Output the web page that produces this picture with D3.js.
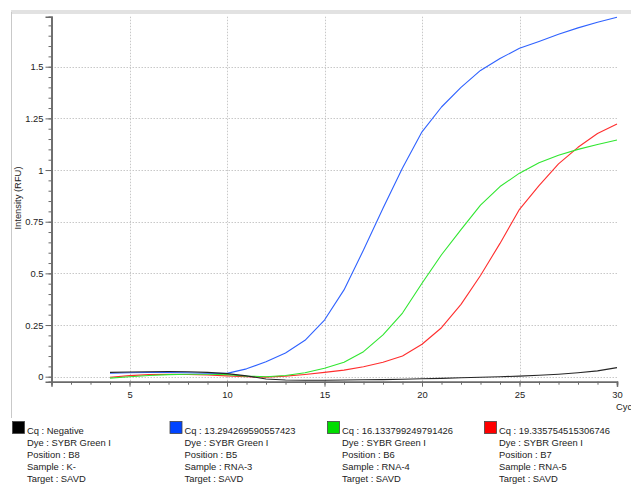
<!DOCTYPE html>
<html>
<head>
<meta charset="utf-8">
<script src="https://cdn.jsdelivr.net/npm/d3@7"></script>
<style>
  html, body { margin: 0; padding: 0; background: #fff; }
  svg { display: block; font-family: "Liberation Sans", Arial, sans-serif; }
</style>
</head>
<body>
<svg id="chart" width="631" height="485"></svg>
<script>
// Amplification curves (RFU per cycle), cycles 4..30
const cycles = [4,5,6,7,8,9,10,11,12,13,14,15,16,17,18,19,20,21,22,23,24,25,26,27,28,29,30];

const negativeB8 = [0.021,0.023,0.024,0.025,0.024,0.021,0.015,0.004,-0.011,-0.016,-0.017,-0.017,-0.016,-0.015,-0.014,-0.012,-0.010,-0.008,-0.005,-0.003,0.000,0.003,0.007,0.012,0.019,0.028,0.044];
const rna3B5 = [0.017,0.019,0.020,0.020,0.019,0.017,0.016,0.038,0.072,0.115,0.176,0.274,0.420,0.613,0.815,1.010,1.185,1.305,1.400,1.482,1.540,1.589,1.622,1.657,1.688,1.715,1.739];
const rna4B6 = [-0.007,0.000,0.006,0.010,0.012,0.012,0.010,0.003,0.000,0.006,0.019,0.041,0.070,0.121,0.202,0.308,0.452,0.590,0.712,0.830,0.920,0.985,1.035,1.072,1.100,1.124,1.145];
const rna5B7 = [-0.003,0.005,0.010,0.012,0.011,0.008,0.004,0.000,-0.002,0.003,0.011,0.021,0.032,0.048,0.070,0.100,0.157,0.237,0.350,0.490,0.645,0.810,0.925,1.030,1.110,1.177,1.223];

const seriesValues = [negativeB8, rna3B5, rna4B6, rna5B7];
const lineColors   = ["#262626", "#2f62ff", "#30e630", "#ff2e2e"];
const swatchColors = ["#000000", "#0044ff", "#00dd00", "#ff0000"];

const cqLabels     = ["Negative", "13.294269590557423", "16.133799249791426", "19.335754515306746"];
const dyeLabels    = ["SYBR Green I", "SYBR Green I", "SYBR Green I", "SYBR Green I"];
const positions    = ["B8", "B5", "B6", "B7"];
const samples      = ["K-", "RNA-3", "RNA-4", "RNA-5"];
const targets      = ["SAVD", "SAVD", "SAVD", "SAVD"];

const yMajorTicks = [0, 0.25, 0.5, 0.75, 1, 1.25, 1.5];
const xMajorTicks = [5, 10, 15, 20, 25, 30];

const svg = d3.select("#chart");

// panel frame: light band on top, thin rule on the left
svg.append("rect").attr("x", 11).attr("y", 10).attr("width", 620).attr("height", 4).attr("fill", "#e2e2e2");
svg.append("line").attr("x1", 11.5).attr("x2", 11.5).attr("y1", 12).attr("y2", 418)
  .attr("stroke", "#c9c9c9").attr("stroke-width", 1);

const x = d3.scaleLinear().domain([1, 30]).range([51.5, 617]);
const y = d3.scaleLinear().domain([-0.0242, 1.742]).range([381.7, 16.7]);

// grid
const grid = svg.append("g").attr("stroke", "#c8c8c8").attr("stroke-width", 1).attr("stroke-dasharray", "1.5,1.5");
grid.selectAll("line.h").data(yMajorTicks).join("line")
  .attr("x1", x(1)).attr("x2", x(30))
  .attr("y1", d => Math.round(y(d)) + 0.5).attr("y2", d => Math.round(y(d)) + 0.5);
grid.selectAll("line.v").data(xMajorTicks.filter(d => d < 30)).join("line")
  .attr("x1", d => Math.round(x(d)) + 0.5).attr("x2", d => Math.round(x(d)) + 0.5)
  .attr("y1", y(1.742)).attr("y2", y(-0.0242));

// axes
const axisColor = "#6a6a6a";
const yAxisMinor = d3.axisLeft(y).tickValues(d3.range(0, 1.7401, 0.05)).tickSize(3).tickFormat("");
const yAxisMajor = d3.axisLeft(y).tickValues(yMajorTicks).tickSize(6).tickPadding(2)
  .tickFormat(d => d3.format("")(d));
const xAxisMinor = d3.axisBottom(x).tickValues(d3.range(2, 31, 1)).tickSize(3).tickFormat("");
const xAxisMajor = d3.axisBottom(x).tickValues(xMajorTicks).tickSize(5).tickPadding(5).tickFormat(d3.format("d"));

function styleAxis(g) {
  g.select(".domain").attr("stroke", axisColor).attr("stroke-width", 1.6);
  g.selectAll(".tick line").attr("stroke", axisColor);
  g.selectAll(".tick text").attr("fill", "#222").attr("font-size", "9.4px")
    .attr("font-family", "'Liberation Sans', Arial, sans-serif");
}

svg.append("g").attr("transform", "translate(51.5,0)").call(yAxisMinor).call(styleAxis);
svg.append("g").attr("transform", "translate(51.5,0)").call(yAxisMajor).call(styleAxis);
svg.append("g").attr("transform", "translate(0,381.7)").call(xAxisMinor).call(styleAxis);
svg.append("g").attr("transform", "translate(0,381.7)").call(xAxisMajor).call(styleAxis);

// axis titles (the x title runs past the right edge of the panel)
svg.append("text").attr("transform", "translate(21,198) rotate(-90)")
  .attr("text-anchor", "middle").attr("font-size", "9.4px").attr("fill", "#222")
  .text("Intensity (RFU)");
svg.append("text").attr("x", 616).attr("y", 410)
  .attr("font-size", "9.4px").attr("fill", "#222").text("Cycles");

// curves, negative control drawn last so it sits on top
const line = d3.line().x((d, i) => x(cycles[i])).y(d => y(d));
const order = [3, 2, 1, 0];
svg.append("g").selectAll("path").data(order).join("path")
  .attr("d", k => line(seriesValues[k]))
  .attr("fill", "none")
  .attr("stroke", k => lineColors[k])
  .attr("stroke-width", 1.1)
  .attr("stroke-linejoin", "round");

// legend
const legendX = [12, 169.5, 327, 484];
const legend = svg.append("g").attr("font-size", "9.4px").attr("fill", "#222");
legendX.forEach((lx, i) => {
  const g = legend.append("g").attr("transform", `translate(${lx},0)`);
  g.append("rect").attr("x", 0.5).attr("y", 421.5).attr("width", 12).attr("height", 12)
    .attr("fill", swatchColors[i]).attr("stroke", "#444").attr("stroke-width", 0.8);
  const rows = [
    "Cq : " + cqLabels[i],
    "Dye : " + dyeLabels[i],
    "Position : " + positions[i],
    "Sample : " + samples[i],
    "Target : " + targets[i]
  ];
  g.selectAll("text").data(rows).join("text")
    .attr("x", 15).attr("y", (d, k) => 434 + k * 11.9)
    .attr("fill", "#222")
    .text(d => d);
});
</script>
</body>
</html>
